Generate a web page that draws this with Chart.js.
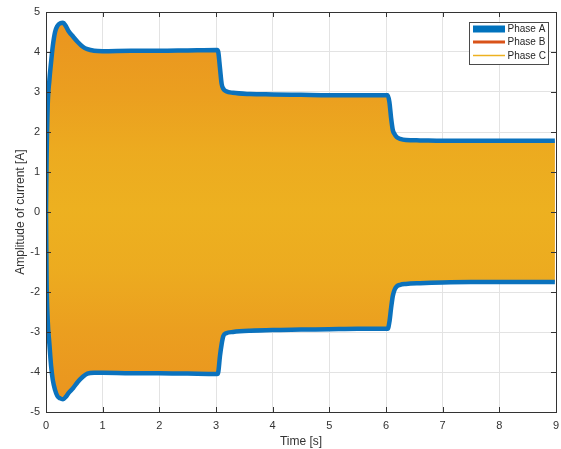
<!DOCTYPE html>
<html>
<head>
<meta charset="utf-8">
<script src="https://cdn.jsdelivr.net/npm/chart.js@4"></script>
<style>
  html, body { margin: 0; padding: 0; background: #fff; }
  #wrap { width: 561px; height: 449px; position: relative; }
</style>
</head>
<body>
<div id="wrap"><canvas id="chart"></canvas></div>
<script>
// envelope of the three phase currents
const times = [0, 0.01, 0.03, 0.06, 0.09, 0.12, 0.16, 0.2, 0.25, 0.3, 0.35, 0.4, 0.48, 0.56, 0.65, 0.73, 0.85, 1.0, 1.5, 2.0, 2.5, 3.02, 3.04, 3.07, 3.1, 3.13, 3.18, 3.3, 3.6, 4.0, 4.5, 5.0, 5.5, 6.03, 6.06, 6.09, 6.12, 6.15, 6.19, 6.25, 6.35, 6.6, 7.0, 7.5, 8.0, 8.5, 8.98];
const upperAmp = [0, 1.3, 2.66, 3.3, 3.75, 4.15, 4.5, 4.65, 4.72, 4.73, 4.65, 4.52, 4.38, 4.25, 4.13, 4.07, 4.03, 4.02, 4.03, 4.03, 4.04, 4.05, 4.0, 3.6, 3.2, 3.08, 3.02, 2.98, 2.95, 2.94, 2.93, 2.92, 2.92, 2.92, 2.75, 2.35, 2.05, 1.95, 1.87, 1.83, 1.8, 1.79, 1.78, 1.78, 1.78, 1.78, 1.78];
const lowerAmp = [0, -1.7, -2.7, -3.3, -3.85, -4.2, -4.45, -4.6, -4.66, -4.68, -4.62, -4.52, -4.4, -4.25, -4.12, -4.04, -4.02, -4.02, -4.03, -4.03, -4.04, -4.05, -4.0, -3.6, -3.3, -3.1, -3.03, -3.0, -2.97, -2.95, -2.94, -2.93, -2.92, -2.92, -2.75, -2.4, -2.1, -1.95, -1.86, -1.82, -1.8, -1.78, -1.76, -1.75, -1.75, -1.75, -1.75];
const phaseLabels = ["Phase A", "Phase B", "Phase C"];
const xTicks = [0, 1, 2, 3, 4, 5, 6, 7, 8, 9];
const yTicks = [-5, -4, -3, -2, -1, 0, 1, 2, 3, 4, 5];

const toPoints = (arr) => arr.map((v, i) => ({ x: times[i], y: v }));

const FONT = "'Liberation Sans', Arial, Helvetica, sans-serif";
const AXIS_COLOR = "#333333";

function phaseCFill(context) {
  const chart = context.chart;
  const y = chart.scales.y;
  if (!chart.chartArea || !y) return "rgba(237,177,32,0.8)";
  const top = y.getPixelForValue(5);
  const bottom = y.getPixelForValue(-5);
  const g = chart.ctx.createLinearGradient(0, top, 0, bottom);
  const stop = (v, a) => g.addColorStop((5 - v) / 10, `rgba(237,178,32,${a})`);
  stop(5, 0);
  stop(4.5, 0);
  stop(3, 0.3);
  stop(1.5, 0.75);
  stop(0, 0.95);
  stop(-1.5, 0.75);
  stop(-3, 0.3);
  stop(-4.5, 0);
  stop(-5, 0);
  return g;
}

const frame = {
  id: "frame",
  afterDraw(chart) {
    const { ctx, chartArea: a, scales } = chart;
    ctx.save();
    ctx.strokeStyle = AXIS_COLOR;
    ctx.lineWidth = 1;
    ctx.strokeRect(Math.round(a.left) + 0.5, Math.round(a.top) + 0.5, Math.round(a.right - a.left), Math.round(a.bottom - a.top));
    ctx.beginPath();
    const len = 5;
    xTicks.forEach((t) => {
      const px = Math.round(scales.x.getPixelForValue(t)) + 0.5;
      ctx.moveTo(px, a.bottom); ctx.lineTo(px, a.bottom - len);
      ctx.moveTo(px, a.top); ctx.lineTo(px, a.top + len);
    });
    yTicks.forEach((t) => {
      const py = Math.round(scales.y.getPixelForValue(t)) + 0.5;
      ctx.moveTo(a.left, py); ctx.lineTo(a.left + len, py);
      ctx.moveTo(a.right, py); ctx.lineTo(a.right - len, py);
    });
    ctx.stroke();

    // MATLAB-style legend box inside the axes
    const bx = 469.5, by = 22.5, bw = 79, bh = 42;
    ctx.fillStyle = "#ffffff";
    ctx.fillRect(bx, by, bw, bh);
    ctx.strokeStyle = "#4a4a4a";
    ctx.strokeRect(bx, by, bw, bh);
    const items = chart.data.datasets.filter((d) => d.legendWidth);
    const rows = [29, 42, 55.5];
    ctx.font = `10px ${FONT}`;
    ctx.textBaseline = "middle";
    items.forEach((d, i) => {
      ctx.strokeStyle = d.legendColor;
      ctx.lineWidth = d.legendWidth;
      ctx.beginPath();
      ctx.moveTo(473, rows[i]);
      ctx.lineTo(505, rows[i]);
      ctx.stroke();
      ctx.fillStyle = "#262626";
      ctx.fillText(d.label, 507.5, rows[i] + 0.5);
    });
    ctx.restore();
  },
};

new Chart(document.getElementById("chart"), {
  type: "line",
  data: {
    datasets: [
      {
        label: phaseLabels[0], data: toPoints(upperAmp), order: 0,
        borderColor: "#0b72bd", borderWidth: 4.5, pointRadius: 0, fill: false,
        legendColor: "#0072BD", legendWidth: 7,
      },
      {
        label: phaseLabels[0] + " (lower)", data: toPoints(lowerAmp), order: 0,
        borderColor: "#0b72bd", borderWidth: 4.5, pointRadius: 0, fill: false,
      },
      {
        label: phaseLabels[1], data: toPoints(upperAmp), order: 2,
        borderWidth: 0, pointRadius: 0, fill: "+1", backgroundColor: "#ea961f",
        legendColor: "#D95319", legendWidth: 3,
      },
      {
        label: phaseLabels[1] + " (lower)", data: toPoints(lowerAmp), order: 2,
        borderWidth: 0, pointRadius: 0, fill: false,
      },
      {
        label: phaseLabels[2], data: toPoints(upperAmp), order: 1,
        borderWidth: 0, pointRadius: 0, fill: "+1", backgroundColor: phaseCFill,
        legendColor: "#EDB120", legendWidth: 1.5,
      },
      {
        label: phaseLabels[2] + " (lower)", data: toPoints(lowerAmp), order: 1,
        borderWidth: 0, pointRadius: 0, fill: false,
      },
    ],
  },
  options: {
    responsive: true,
    maintainAspectRatio: false,
    animation: false,
    devicePixelRatio: 1,
    layout: { padding: { left: 0, right: 5, top: 12, bottom: 0 } },
    plugins: { legend: { display: false }, tooltip: { enabled: false } },
    elements: { line: { cubicInterpolationMode: "monotone" } },
    scales: {
      x: {
        type: "linear", min: 0, max: 9,
        afterFit: (s) => { s.height = 37; s.paddingRight = 0; s.paddingLeft = 0; },
        afterBuildTicks: (s) => { s.ticks = xTicks.map((v) => ({ value: v })); },
        grid: { color: "#e3e3e3", drawTicks: false },
        border: { display: false },
        ticks: { padding: 7, color: AXIS_COLOR, font: { family: FONT, size: 11 } },
        title: { display: true, text: "Time [s]", color: AXIS_COLOR, font: { family: FONT, size: 12 }, padding: { top: 0, bottom: 0 } },
      },
      y: {
        type: "linear", min: -5, max: 5,
        afterFit: (s) => { s.width = 46; s.paddingTop = 0; s.paddingBottom = 0; },
        afterBuildTicks: (s) => { s.ticks = yTicks.map((v) => ({ value: v })); },
        grid: { color: "#e3e3e3", drawTicks: false },
        border: { display: false },
        ticks: { padding: 6, color: AXIS_COLOR, font: { family: FONT, size: 11 } },
        title: { display: true, text: "Amplitude of current [A]", color: AXIS_COLOR, font: { family: FONT, size: 12 }, padding: { top: 13, bottom: 0 } },
      },
    },
  },
  plugins: [frame],
});
</script>
</body>
</html>
